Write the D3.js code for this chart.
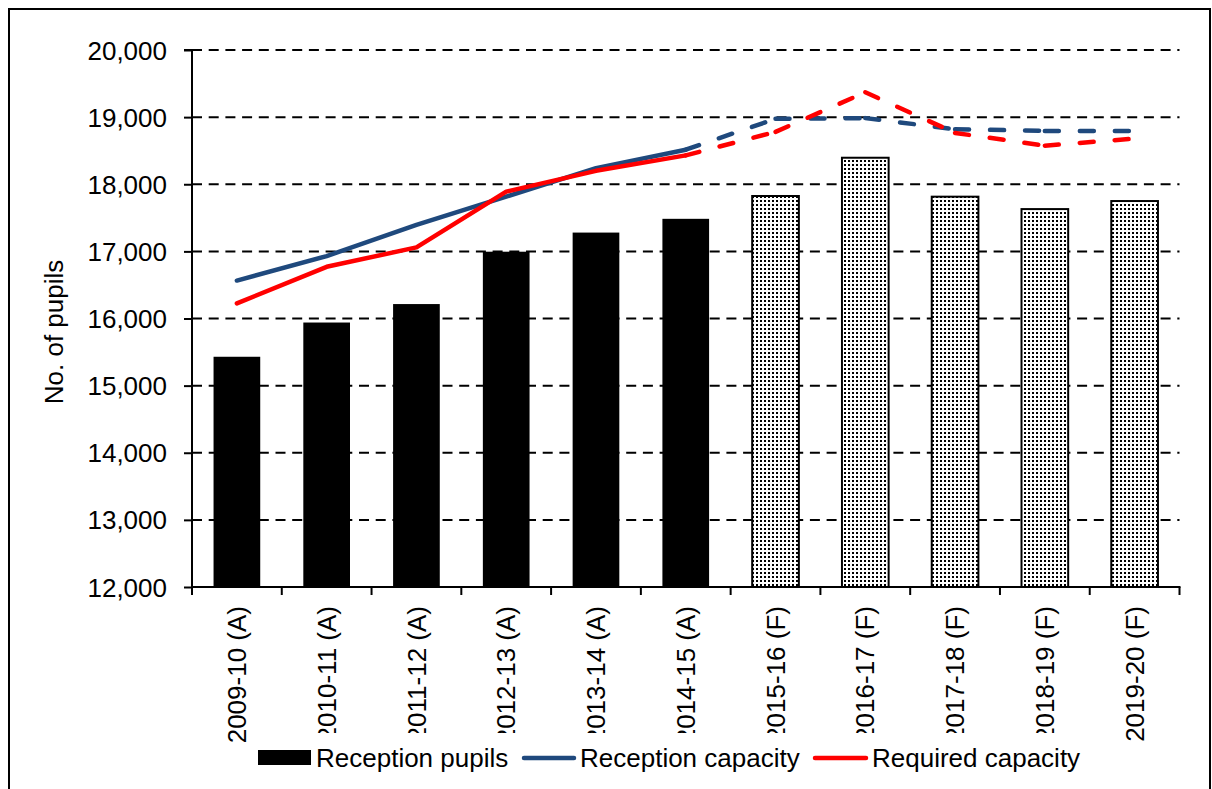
<!DOCTYPE html>
<html>
<head>
<meta charset="utf-8">
<script src="https://cdn.jsdelivr.net/npm/d3@7"></script>
<style>
  body { margin: 0; background: #fff; }
  svg text { font-family: "Liberation Sans", Arial, sans-serif; fill: #000; }
</style>
</head>
<body>
<svg id="chart"></svg>
<script>
const categories = ['2009-10 (A)', '2010-11 (A)', '2011-12 (A)', '2012-13 (A)', '2013-14 (A)', '2014-15 (A)',
  '2015-16 (F)', '2016-17 (F)', '2017-18 (F)', '2018-19 (F)', '2019-20 (F)'];
const receptionPupils = [15430, 15940, 16215, 16995, 17280, 17485, 17825, 18395, 17815, 17630, 17750];
const receptionCapacity = [16565, 16930, 17395, 17815, 18240, 18515, 18975, 18985, 18820, 18795, 18795];
const requiredCapacity = [16225, 16770, 17060, 17890, 18200, 18430, 18780, 19370, 18765, 18575, 18680];
const yTicks = [12000, 13000, 14000, 15000, 16000, 17000, 18000, 19000, 20000];
const legendLabels = ['Reception pupils', 'Reception capacity', 'Required capacity'];

const width = 1212;
const height = 789;
const plot = { left: 192, right: 1179.5, top: 50, bottom: 587 };
const blue = '#1f497d';
const red = '#ff0000';
const font = 26;

const svg = d3.select('#chart')
  .attr('width', width)
  .attr('height', height);

// stipple pattern for forecast bars
const pat = svg.append('defs').append('pattern')
  .attr('id', 'dots')
  .attr('patternUnits', 'userSpaceOnUse')
  .attr('width', 4)
  .attr('height', 4);
pat.append('rect').attr('width', 4).attr('height', 4).attr('fill', '#fff');
pat.append('rect').attr('width', 2).attr('height', 2).attr('fill', '#000');

// outer frame
svg.append('rect')
  .attr('x', 9).attr('y', 9)
  .attr('width', 1201).attr('height', 800)
  .attr('fill', '#fff')
  .attr('stroke', '#000')
  .attr('stroke-width', 2);

const x = d3.scaleBand()
  .domain(categories)
  .range([plot.left, plot.right])
  .padding(0);

const xBar = d3.scaleBand()
  .domain(categories)
  .range([plot.left, plot.right])
  .paddingInner(0.48)
  .paddingOuter(0.24);

const y = d3.scaleLinear()
  .domain([12000, 20000])
  .range([plot.bottom, plot.top]);

const isActual = d => d.endsWith('(A)');

// gridlines
svg.append('g')
  .selectAll('line')
  .data(yTicks.filter(t => t > 12000))
  .enter().append('line')
  .attr('x1', plot.left)
  .attr('x2', plot.right)
  .attr('y1', d => y(d))
  .attr('y2', d => y(d))
  .attr('stroke', '#000')
  .attr('stroke-width', 2)
  .attr('stroke-dasharray', '10,6.7');

// bars
svg.append('g')
  .selectAll('rect')
  .data(categories)
  .enter().append('rect')
  .attr('x', d => xBar(d))
  .attr('width', xBar.bandwidth())
  .attr('y', (d, i) => y(receptionPupils[i]))
  .attr('height', (d, i) => y(12000) - y(receptionPupils[i]))
  .attr('fill', d => isActual(d) ? '#000' : 'url(#dots)')
  .attr('stroke', d => isActual(d) ? 'none' : '#000')
  .attr('stroke-width', 2);

// lines: solid for actual years, dashed for forecasts
const cx = d => x(d) + x.bandwidth() / 2;
const nActual = categories.filter(isActual).length;

function drawSeries(values, color) {
  const pts = categories.map((c, i) => [cx(c), y(values[i])]);
  const line = d3.line();
  svg.append('path')
    .attr('d', line(pts.slice(0, nActual)))
    .attr('fill', 'none')
    .attr('stroke', color)
    .attr('stroke-width', 4.5)
    .attr('stroke-linejoin', 'round')
    .attr('stroke-linecap', 'round');
  for (let i = nActual - 1; i < pts.length - 1; i++) {
    svg.append('path')
      .attr('d', line([pts[i], pts[i + 1]]))
      .attr('fill', 'none')
      .attr('stroke', color)
      .attr('stroke-width', 4.5)
      .attr('stroke-linecap', 'round')
      .attr('stroke-dasharray', '14,21');
  }
}
drawSeries(receptionCapacity, blue);
drawSeries(requiredCapacity, red);

// y axis
const yAxis = svg.append('g')
  .attr('transform', `translate(${plot.left},0)`)
  .call(d3.axisLeft(y).tickValues(yTicks).tickSize(8).tickPadding(17).tickFormat(d3.format(',')));
yAxis.select('.domain').attr('stroke-width', 2).attr('d', `M-8,${plot.top}H0V${plot.bottom}`);
yAxis.selectAll('.tick line').attr('stroke-width', 2);
yAxis.selectAll('.tick text').style('font-size', font + 'px').attr('dy', '0.35em');

// x axis
svg.append('line')
  .attr('x1', plot.left - 1).attr('x2', plot.right + 1)
  .attr('y1', plot.bottom).attr('y2', plot.bottom)
  .attr('stroke', '#000').attr('stroke-width', 2);
svg.append('g')
  .selectAll('line')
  .data(d3.range(categories.length + 1))
  .enter().append('line')
  .attr('x1', i => plot.left + i * x.step())
  .attr('x2', i => plot.left + i * x.step())
  .attr('y1', plot.bottom)
  .attr('y2', plot.bottom + 8)
  .attr('stroke', '#000').attr('stroke-width', 2);

svg.append('g')
  .selectAll('text')
  .data(categories)
  .enter().append('text')
  .attr('transform', d => `translate(${cx(d)},606) rotate(-90)`)
  .attr('text-anchor', 'end')
  .attr('dy', '0.35em')
  .style('font-size', font + 'px')
  .text(d => d);

// y title
svg.append('text')
  .attr('transform', 'translate(54,332) rotate(-90)')
  .attr('text-anchor', 'middle')
  .attr('dy', '0.35em')
  .style('font-size', font + 'px')
  .text('No. of pupils');

// legend
const legend = svg.append('g');
legend.append('rect')
  .attr('x', 252).attr('y', 733)
  .attr('width', 840).attr('height', 54)
  .attr('fill', '#fff');

legend.append('rect')
  .attr('x', 258).attr('y', 750)
  .attr('width', 53).attr('height', 15)
  .attr('fill', '#000');
legend.append('line')
  .attr('x1', 524).attr('x2', 574)
  .attr('y1', 758).attr('y2', 758)
  .attr('stroke', blue).attr('stroke-width', 4.5).attr('stroke-linecap', 'round');
legend.append('line')
  .attr('x1', 815).attr('x2', 866)
  .attr('y1', 758).attr('y2', 758)
  .attr('stroke', red).attr('stroke-width', 4.5).attr('stroke-linecap', 'round');

legend.selectAll('text.lbl')
  .data(legendLabels)
  .enter().append('text')
  .attr('class', 'lbl')
  .attr('x', (d, i) => [316, 580, 872][i])
  .attr('y', 758)
  .attr('dy', '0.35em')
  .style('font-size', font + 'px')
  .text(d => d);
</script>
</body>
</html>
